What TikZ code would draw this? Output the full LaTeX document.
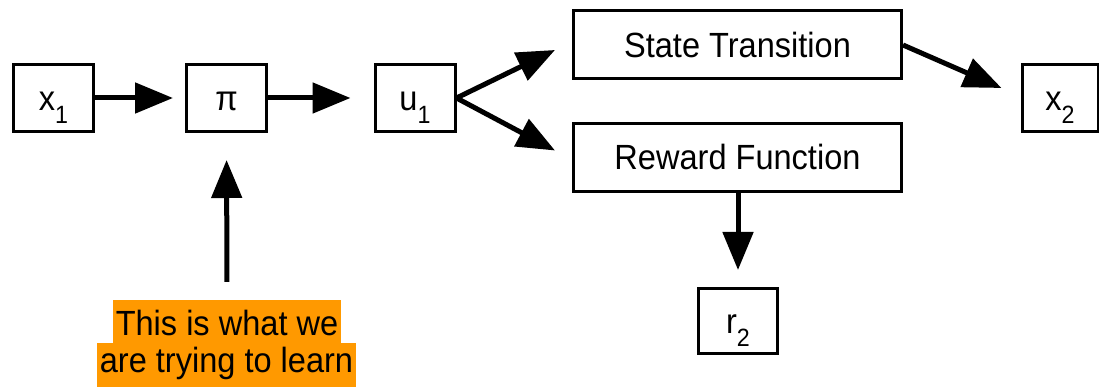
\documentclass[tikz,border=0pt]{standalone}
\usepackage{fontspec}
\setmainfont{Liberation Sans}[FakeStretch=0.93]
\usetikzlibrary{arrows.meta}
\definecolor{hl}{RGB}{255,153,0}
\newcommand{\subsc}[1]{\raisebox{-13pt}{\fontsize{25}{25}\selectfont #1}}
\begin{document}
\begin{tikzpicture}[x=1pt,y=-1pt,
  box/.style={draw, line width=3pt, inner sep=0pt, text height=25pt, text depth=0pt, font=\fontsize{35}{42}\selectfont},
  small/.style={box, minimum width=80pt, minimum height=67pt},
  wide/.style={box, minimum width=328pt, minimum height=68pt},
  flow/.style={line width=5pt, -{Triangle[length=38pt,width=30pt]}},
  note/.style={fill=hl, inner xsep=3pt, inner ysep=0pt, anchor=base, font=\fontsize{35}{42}\selectfont}]
\useasboundingbox (0,0) rectangle (1099,387);
\node[small] (x1) at (53.5,98) {x\subsc{1}};
\node[small] (pi) at (226.5,98) {π};
\node[small] (u1) at (415,98) {u\subsc{1}};
\node[wide] (st) at (737.5,45) {State Transition};
\node[wide] (rw) at (737.5,157.5) {Reward Function};
\node[box, minimum width=76pt, minimum height=67pt] (x2) at (1060,98) {x\subsc{2}};
\node[box, minimum width=79pt, minimum height=65pt] (r2) at (738,321) {r\subsc{2}};
\node[note, text height=35pt, text depth=8pt] (n1) at (227,335) {This is what we};
\node[note, text height=29pt, text depth=15pt] (n2) at (226.5,372) {are trying to learn};
\draw[flow, shorten >=12pt] (x1) -- (pi);
\draw[flow, shorten >=23pt] (pi) -- (u1);
\draw[flow] (u1.east) -- ([xshift=-17pt,yshift=-5pt]st.west);
\draw[flow] (u1.east) -- ([xshift=-17pt,yshift=7pt]rw.west);
\draw[flow] (st.east) -- ([xshift=-19pt,yshift=10pt]x2.west);
\draw[flow, shorten >=17pt] (rw.south -| r2.north) -- (r2.north);
\draw[flow, shorten <=18pt, shorten >=27pt] (n1.north) -- (pi.south);
\end{tikzpicture}
\end{document}
